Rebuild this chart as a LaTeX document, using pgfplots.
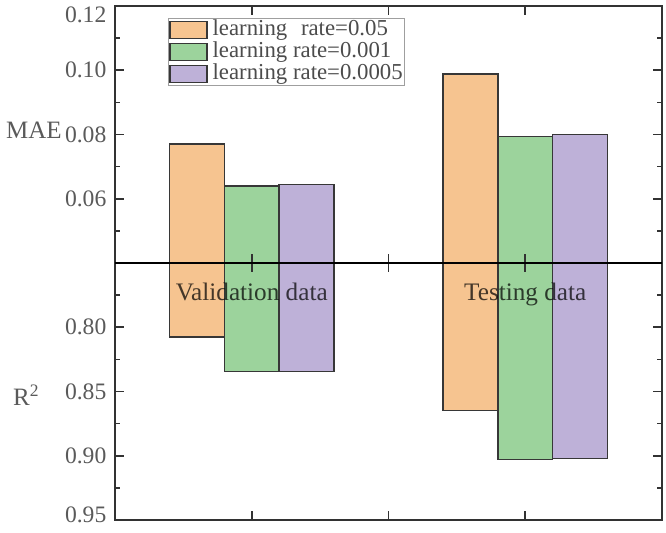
\documentclass[border=0pt]{standalone}
\usepackage{pgfplots}
\pgfplotsset{compat=1.18}
\usepackage{fontspec}
\setmainfont{Liberation Serif}

\definecolor{barorange}{RGB}{246,196,144}
\definecolor{bargreen}{RGB}{156,211,156}
\definecolor{barpurple}{RGB}{190,177,216}
\definecolor{edgec}{RGB}{55,55,55}
\definecolor{labelgray}{RGB}{90,90,90}
\definecolor{framec}{RGB}{50,50,50}

\pgfplotsset{
  panel/.style={
    scale only axis, width=273.5pt, height=128.5pt,
    xmin=0.5, xmax=2.5,
    xtick={1,1.5,2}, xticklabels={},
    tick align=inside,
    major tick length=4.5pt, minor tick length=2.5pt,
    axis line style={framec, line width=1pt},
    tick style={framec, line width=0.8pt},
    /pgf/number format/assume math mode=true,
    /pgf/number format/fixed,
    /pgf/number format/fixed zerofill,
    /pgf/number format/precision=2,
    yticklabel style={font=\fontsize{11.8}{13}\selectfont, text=labelgray, xshift=-0.8pt},
    axis on top,
  },
  lrbar/.style={ybar, bar width=0.2, bar shift=#1, draw=edgec, line width=0.75pt,
    legend image code/.code={\draw[##1] (0pt,-4.25pt) rectangle (18.5pt,4.25pt); \path (20.5pt,0pt);}},
}

\begin{document}
\begin{tikzpicture}
% lower panel: R^2, axis reversed so bars hang down from the shared line
\begin{axis}[panel, at={(0,0)}, anchor=north west,
  y dir=reverse, ymin=0.75, ymax=0.95,
  ytick={0.80,0.85,0.90}, minor ytick={0.775,0.825,0.875,0.925},
  extra y ticks={0.95}, extra y tick style={yticklabel style={yshift=2.5pt}},
]
\addplot[lrbar=-0.2, fill=barorange] coordinates {(1,0.8077) (2,0.8646)};
\addplot[lrbar=0, fill=bargreen] coordinates {(1,0.8346) (2,0.9031)};
\addplot[lrbar=0.2, fill=barpurple] coordinates {(1,0.8346) (2,0.9023)};
\end{axis}

% upper panel: MAE
\begin{axis}[panel, at={(0,0)}, anchor=south west,
  ymin=0.04, ymax=0.12,
  ytick={0.06,0.08,0.10}, minor ytick={0.05,0.07,0.09,0.11},
  extra y ticks={0.12}, extra y tick style={yticklabel style={yshift=-4.5pt}},
  xticklabels={Validation data,,Testing data},
  xticklabel style={anchor=base, yshift=-18.5pt, font=\fontsize{12.6}{14}\selectfont,
    text=black, text opacity=0.72},
  legend style={at={(0.097,0.953)}, anchor=north west, draw=gray!75, line width=0.5pt,
    fill=white, font=\fontsize{11.4}{13}\selectfont, text=labelgray!85!black,
    inner sep=0.3pt, row sep=0pt,
    nodes={inner sep=0.5pt, text height=7.5pt, text depth=2.5pt}},
  legend cell align=left,
]
\addplot[lrbar=-0.2, fill=barorange] coordinates {(1,0.0770) (2,0.0988)};
\addplot[lrbar=0, fill=bargreen] coordinates {(1,0.0640) (2,0.0794)};
\addplot[lrbar=0.2, fill=barpurple] coordinates {(1,0.0645) (2,0.0800)};
\legend{learning\hspace{0.6em}rate=0.05, learning rate=0.001, learning rate=0.0005\hspace{8pt}}
\end{axis}

% shared zero line between the panels
\draw[black, line width=1.1pt] (0,0) -- (273.5pt,0);

\node[anchor=base east, inner sep=0pt, text=labelgray, font=\fontsize{12.5}{14}\selectfont] at (-26.5pt,62.5pt) {MAE};
\node[anchor=base east, inner sep=0pt, text=labelgray, font=\fontsize{12.5}{14}\selectfont] at (-37.5pt,-71pt) {R\textsuperscript{2}};

\pgfresetboundingbox
\path[use as bounding box] (-57.5pt,131.5pt) rectangle (275.5pt,-134.5pt);
\end{tikzpicture}
\end{document}
